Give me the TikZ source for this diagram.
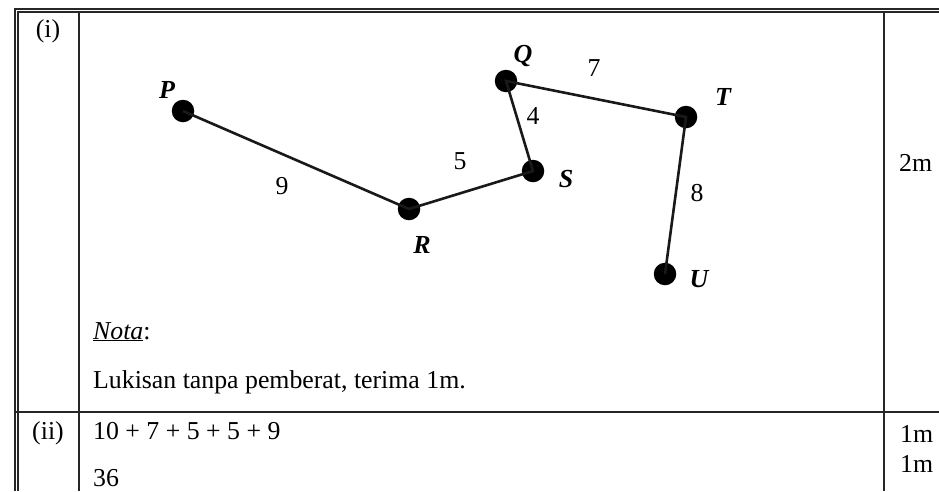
\documentclass[tikz,border=0pt]{standalone}
\usepackage{fontspec}
\setmainfont{Liberation Serif}
\begin{document}
\begin{tikzpicture}[x=1pt,y=-1pt,
  rule/.style={line width=1.6pt,black!85},
  thickrule/.style={line width=2.6pt,black!85},
  txt/.style={inner sep=0pt,anchor=base west,font=\fontsize{25.8}{30}\selectfont},
  ctxt/.style={inner sep=0pt,anchor=base,font=\fontsize{25.8}{30}\selectfont},
  dot/.style={circle,fill=black,inner sep=0pt,minimum size=22.5pt},
  vlabel/.style={inner sep=0pt,font=\fontsize{26}{30}\selectfont\bfseries\itshape},
  elabel/.style={inner sep=0pt,font=\fontsize{25.8}{30}\selectfont},
  edge/.style={line width=2.6pt,black!90}]
\useasboundingbox (0,0) rectangle (939,491);
% table rules
\draw[rule] (15,491) -- (15,9) -- (939,9);
\draw[rule] (18,491) -- (18,12) -- (939,12);
\draw[rule] (79,12) -- (79,491);
\draw[rule] (884,12) -- (884,491);
\draw[thickrule] (15,412) -- (939,412);
% row labels
\node[ctxt] (ri) at (48,37) {(i)};
\node[ctxt] (rii) at (48,439) {(ii)};
% marks
\node[txt] (m1) at (899,171) {2m};
\node[txt] (m2) at (900,442) {1m};
\node[txt] (m3) at (900,472) {1m};
% notes
\node[txt] (nota) at (93,339) {\underline{\textit{Nota}}:};
\node[txt] (luk) at (93,388) {Lukisan tanpa pemberat, terima 1m.};
\node[txt] (sum) at (93,439) {10 + 7 + 5 + 5 + 9};
\node[txt] (ans) at (93,486) {36};
% graph
\node[dot] (P) at (183,111) {};
\node[dot] (Q) at (506,81) {};
\node[dot] (R) at (409,209) {};
\node[dot] (S) at (533,171) {};
\node[dot] (T) at (686,117) {};
\node[dot] (U) at (665,274) {};
\draw[edge] (P.center) -- (R.center) -- (S.center) -- (Q.center) -- (T.center) -- (U.center);
\node[vlabel] (lP) at (167,90) {P};
\node[vlabel] (lQ) at (523,56) {Q};
\node[vlabel] (lR) at (422,245) {R};
\node[vlabel] (lS) at (566,179) {S};
\node[vlabel] (lT) at (723,97) {T};
\node[vlabel] (lU) at (699,279) {U};
\node[elabel] (e9) at (282,186) {9};
\node[elabel] (e5) at (460,161) {5};
\node[elabel] (e4) at (533,116) {4};
\node[elabel] (e7) at (594,68) {7};
\node[elabel] (e8) at (697,193) {8};
\end{tikzpicture}
\end{document}
